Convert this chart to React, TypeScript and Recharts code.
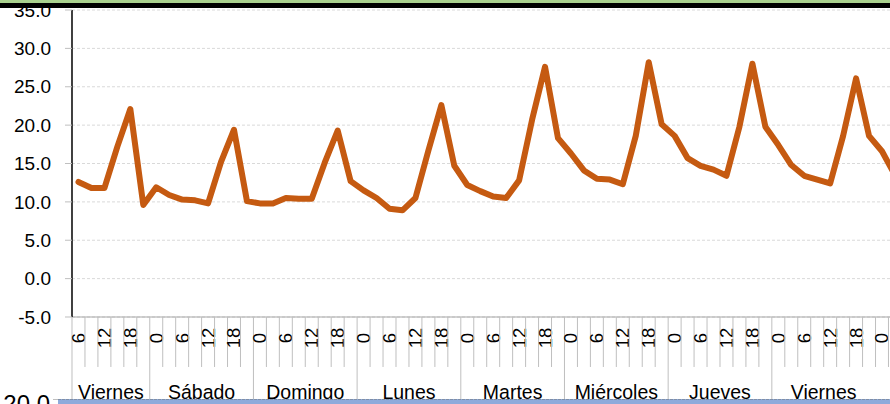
import React from 'react';
import { LineChart, Line, XAxis, YAxis, CartesianGrid } from 'recharts';

// ---- data ----
const dayNames = ['Viernes', 'Sábado', 'Domingo', 'Lunes', 'Martes', 'Miércoles', 'Jueves', 'Viernes', 'Sábado'];
const fullDay = [0, 3, 6, 9, 12, 15, 18, 21];
const dayHours: number[][] = [
  [6, 9, 12, 15, 18, 21],
  fullDay, fullDay, fullDay, fullDay, fullDay, fullDay, fullDay,
  [0, 3],
];
const labeledHours = [0, 6, 12, 18];
const values = [
  12.6, 11.8, 11.8, 17.2, 22.1, 9.6,
  11.9, 10.9, 10.3, 10.2, 9.8, 15.2, 19.4, 10.1,
  9.8, 9.8, 10.5, 10.4, 10.4, 15.1, 19.3, 12.7,
  11.5, 10.5, 9.1, 8.9, 10.5, 16.7, 22.6, 14.7,
  12.2, 11.4, 10.7, 10.5, 12.8, 20.7, 27.6, 18.3,
  16.3, 14.1, 13.0, 12.9, 12.3, 18.6, 28.2, 20.1,
  18.6, 15.7, 14.7, 14.2, 13.4, 19.8, 28.0, 19.8,
  17.4, 14.8, 13.4, 12.9, 12.4, 18.6, 26.1, 18.6,
  16.6, 13.5,
];
const yTicks = [-5, 0, 5, 10, 15, 20, 25, 30, 35];

type Row = { idx: number; day: string; group: number; hour: number; v: number };
const data: Row[] = [];
const groups: { name: string; start: number; count: number }[] = [];
{
  let k = 0;
  dayHours.forEach((hrs, g) => {
    groups.push({ name: dayNames[g], start: k, count: hrs.length });
    hrs.forEach((h) => {
      data.push({ idx: k, day: dayNames[g], group: g, hour: h, v: values[k] });
      k++;
    });
  });
}

// ---- layout ----
const N = data.length;
const BW = 12.96;
const Y_W = 72;
const CHART_W = Y_W + N * BW;
const CHART_H = 404;
const FONT = '"Liberation Sans", Arial, sans-serif';

const CategoryTick = (props: any) => {
  const { x, y, payload } = props;
  const i = Number(payload.value);
  const row = data[i];
  if (!row) return null;
  const g = groups[row.group];
  const isStart = g.start === i;
  const fullGroup = g.count >= 6;
  const left = x - BW / 2;
  const long = isStart && fullGroup;
  const showHour = labeledHours.includes(row.hour);
  return (
    <g>
      <line x1={left} x2={left} y1={y} y2={long ? y + 85 : y + 50} stroke="#bfbfbf" strokeWidth={1} />
      {showHour && (
        <text
          transform={`translate(${x},${y + 21}) rotate(-90)`}
          textAnchor="middle"
          dominantBaseline="central"
          fontSize={18.5}
          fontFamily={FONT}
          fill="#000"
        >
          {row.hour}
        </text>
      )}
      {isStart && fullGroup && (
        <text
          x={left + (g.count * BW) / 2}
          y={y + 82}
          textAnchor="middle"
          fontSize={19.5}
          fontFamily={FONT}
          fill="#000"
        >
          {g.name}
        </text>
      )}
    </g>
  );
};

export default function App() {
  return (
    <div
      style={{
        position: 'absolute',
        left: 0,
        top: 0,
        width: 890,
        height: 404,
        overflow: 'hidden',
        background: '#fff',
      }}
    >
      <div style={{ position: 'absolute', left: 0, top: 0 }}>
        <LineChart
          width={CHART_W}
          height={CHART_H}
          data={data}
          margin={{ top: 10, right: 0, bottom: 0, left: 0 }}
        >
          <CartesianGrid horizontal vertical={false} stroke="#d9d9d9" strokeDasharray="3 2" />
          <XAxis
            dataKey="idx"
            type="category"
            scale="point"
            padding={{ left: BW / 2, right: BW / 2 }}
            interval={0}
            height={87}
            tickLine={false}
            tickSize={0}
            tickMargin={0}
            axisLine={{ stroke: '#a6a6a6', strokeWidth: 1 }}
            tick={<CategoryTick />}
          />
          <YAxis
            type="number"
            domain={[-5, 35]}
            ticks={yTicks}
            interval={0}
            width={Y_W}
            tickSize={7}
            tickMargin={14}
            tickFormatter={(v: number) => v.toFixed(1)}
            axisLine={{ stroke: '#000', strokeWidth: 1.5 }}
            tickLine={{ stroke: '#bfbfbf' }}
            tick={{ fontSize: 19, fill: '#000', fontFamily: FONT }}
            allowDataOverflow
          />
          <Line
            type="linear"
            dataKey="v"
            stroke="#c55a11"
            strokeWidth={6}
            dot={false}
            activeDot={false}
            strokeLinejoin="round"
            strokeLinecap="round"
            isAnimationActive={false}
          />
        </LineChart>
      </div>
      <svg
        width={890}
        height={404}
        style={{ position: 'absolute', left: 0, top: 0, pointerEvents: 'none' }}
      >
        <rect x={0} y={0} width={890} height={3} fill="#a9d18e" />
        <rect x={0} y={3} width={890} height={5} fill="#000" />
        <text x={50} y={412} textAnchor="end" fontSize={24} fontFamily={FONT} fill="#000">
          -20.0
        </text>
        <line x1={53} x2={58} y1={399.5} y2={399.5} stroke="#bfbfbf" />
        <rect x={58} y={399} width={832} height={5} fill="#8eaadb" />
        <line x1={58} x2={890} y1={399.5} y2={399.5} stroke="#7f8fa8" strokeWidth={1} strokeDasharray="3 1" />
      </svg>
    </div>
  );
}
